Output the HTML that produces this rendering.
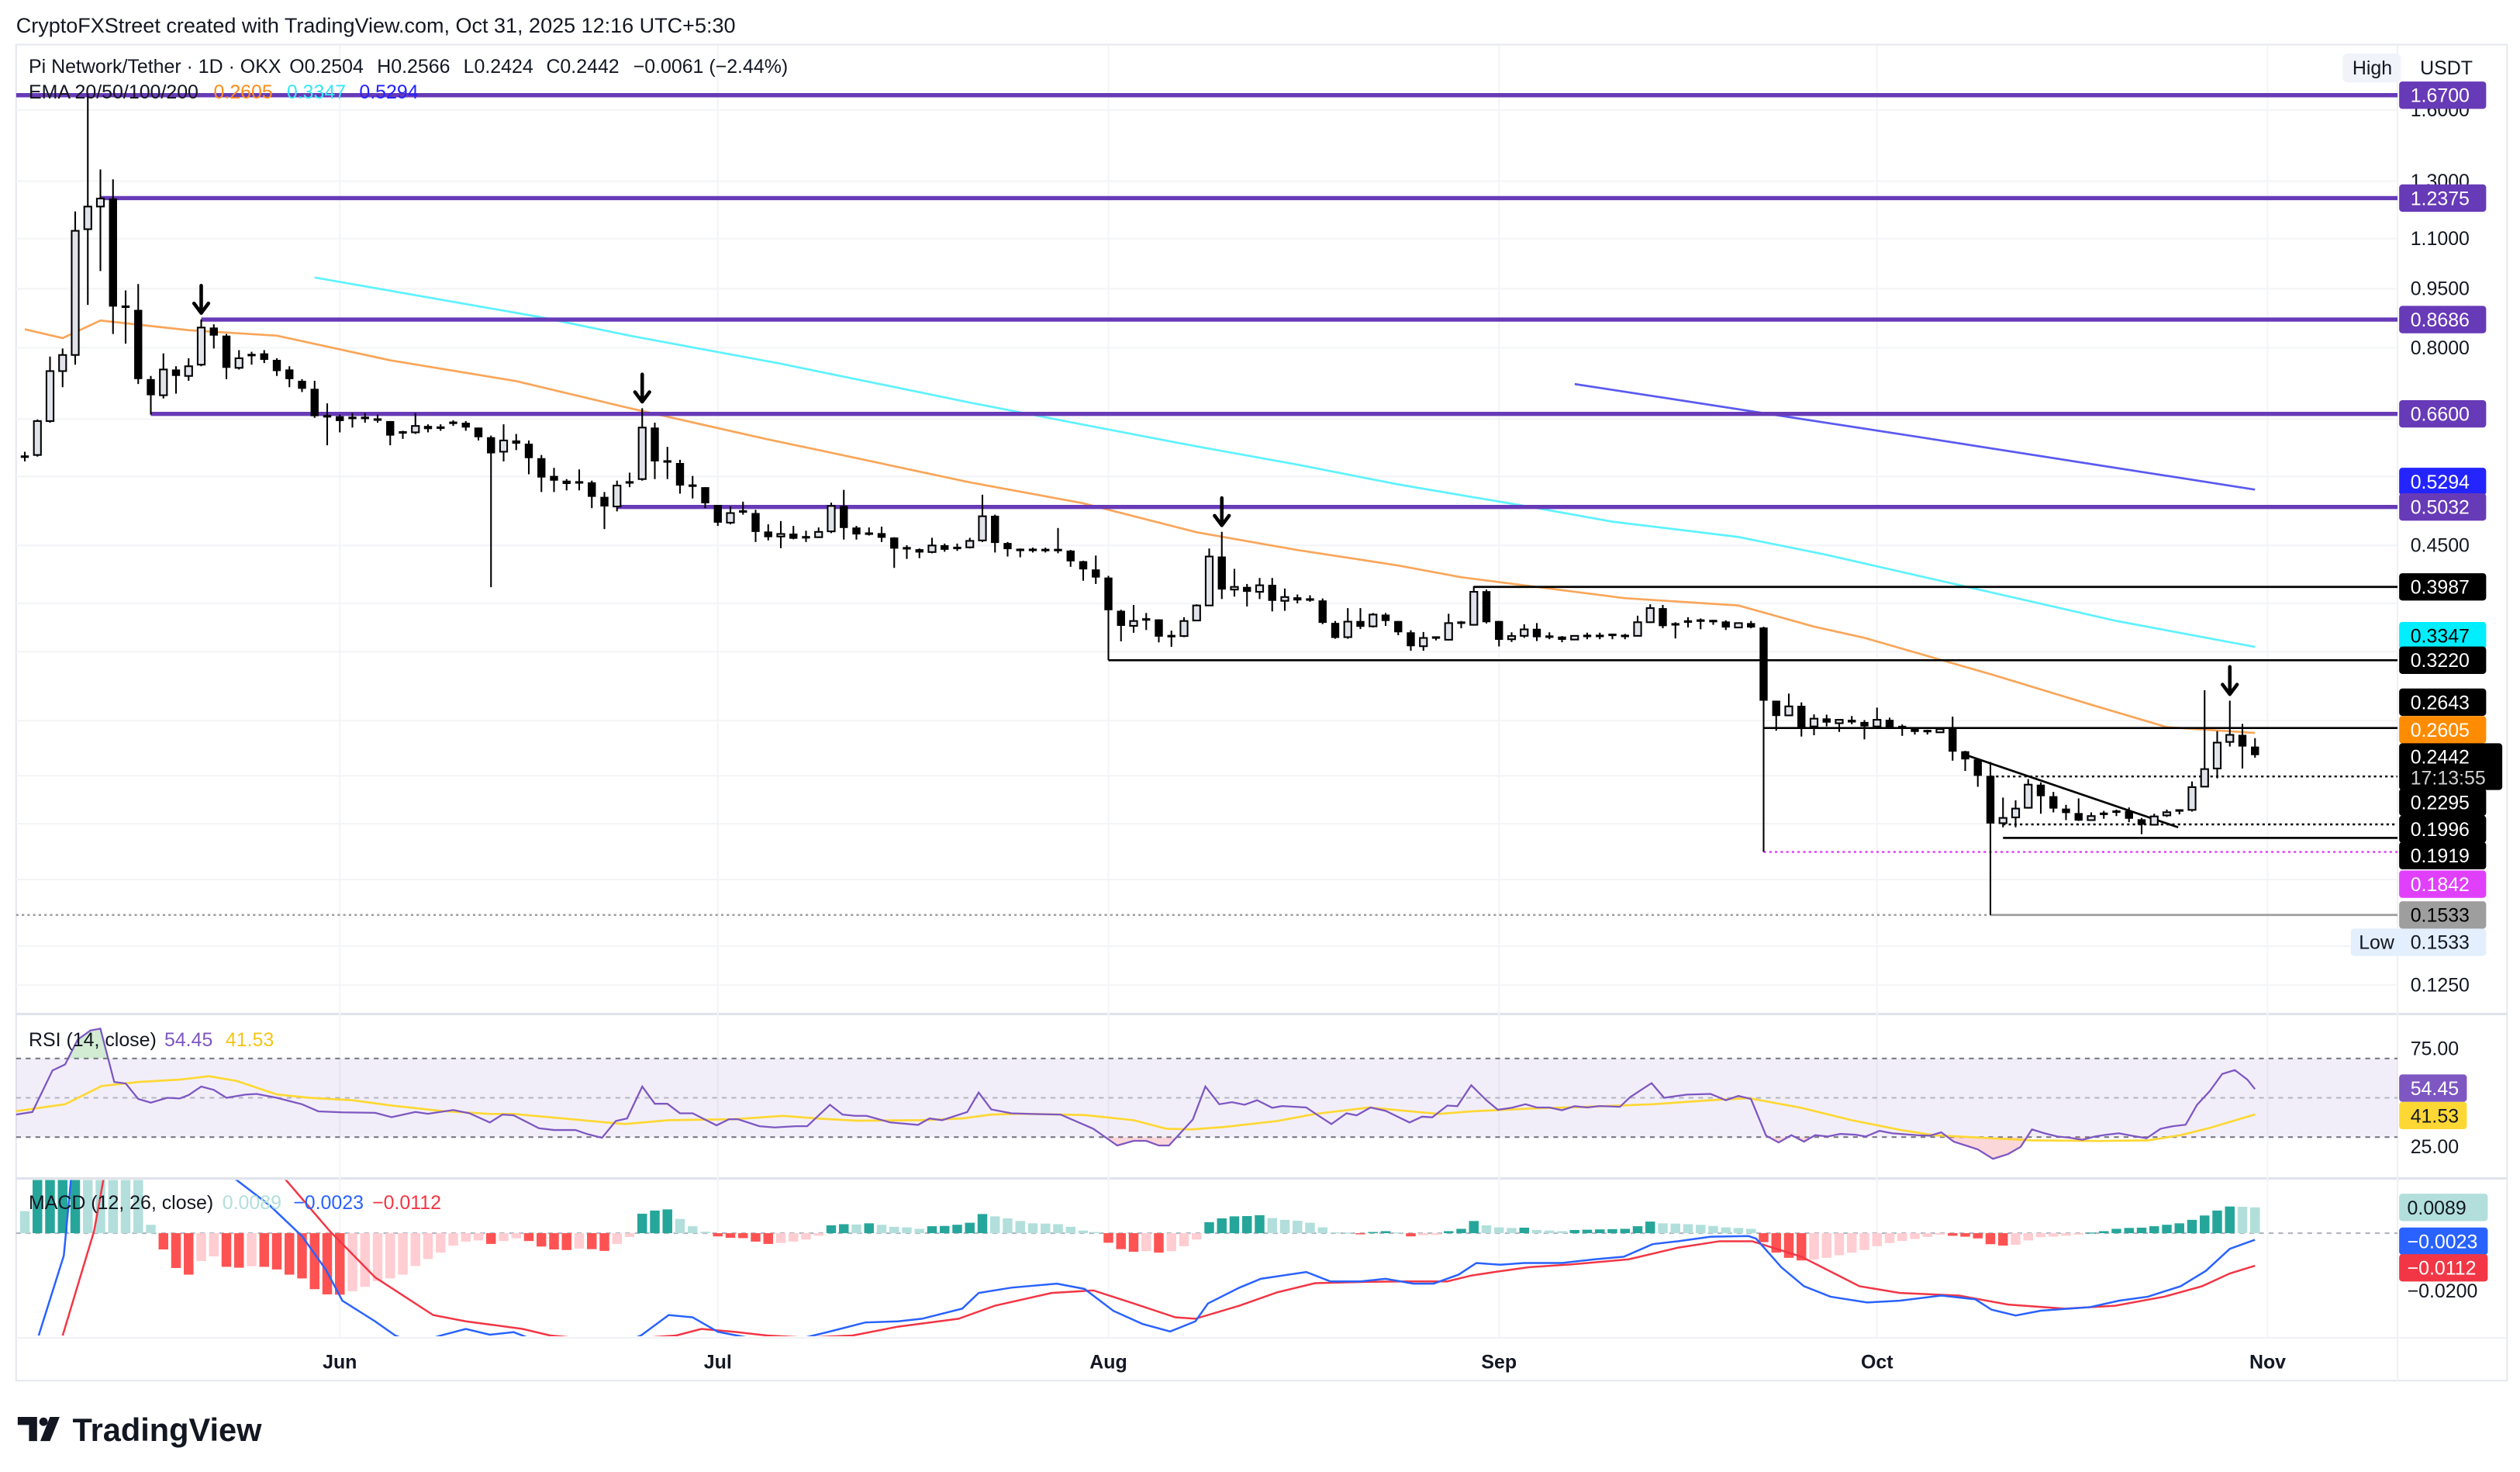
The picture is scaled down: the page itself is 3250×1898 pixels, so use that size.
<!DOCTYPE html>
<html><head><meta charset="utf-8"><title>Pi Network/Tether chart</title>
<style>
html,body{margin:0;padding:0;background:#fff;}
svg{display:block;font-family:"Liberation Sans",Arial,sans-serif;}
</style></head>
<body>
<svg id="chart" width="3250" height="1898" viewBox="0 0 1564 913" xmlns="http://www.w3.org/2000/svg">
<defs>
<clipPath id="mainClip"><rect x="10" y="28" width="1478" height="600"/></clipPath>
<clipPath id="rsiClip"><rect x="10" y="630" width="1478" height="100"/></clipPath>
<clipPath id="macdClip"><rect x="10" y="732" width="1478" height="97"/></clipPath>
<clipPath id="rsiHigh"><rect x="10" y="600" width="1478" height="56.6"/></clipPath>
<clipPath id="rsiLow"><rect x="10" y="705.4" width="1478" height="30"/></clipPath>
</defs>
<rect x="0" y="0" width="1564" height="913" fill="#ffffff"/>
<text x="10" y="20" font-size="13" fill="#131722">CryptoFXStreet created with TradingView.com, Oct 31, 2025 12:16 UTC+5:30</text>
<rect x="10" y="27.5" width="1546" height="829" fill="none" stroke="#e6e8ee" stroke-width="1"/>
<line x1="10" y1="629" x2="1556" y2="629" stroke="#e0e3eb" stroke-width="1.5"/>
<line x1="10" y1="731" x2="1556" y2="731" stroke="#e0e3eb" stroke-width="1.5"/>
<line x1="10" y1="830" x2="1556" y2="830" stroke="#f0f1f5" stroke-width="1"/>
<line x1="1488" y1="28" x2="1488" y2="857" stroke="#f0f1f5" stroke-width="1"/>
<g id="grid"></g>
<rect x="10" y="656.6" width="1478" height="48.8" fill="#7e57c2" fill-opacity="0.1"/>
<line x1="10" y1="656.6" x2="1488" y2="656.6" stroke="#787b86" stroke-dasharray="3,3" stroke-width="1"/>
<line x1="10" y1="681" x2="1488" y2="681" stroke="#b2b5be" stroke-dasharray="3,3" stroke-width="1"/>
<line x1="10" y1="705.4" x2="1488" y2="705.4" stroke="#787b86" stroke-dasharray="3,3" stroke-width="1"/>
<line x1="10" y1="765" x2="1488" y2="765" stroke="#b2b5be" stroke-dasharray="3,3" stroke-width="1"/>
<g id="main" clip-path="url(#mainClip)"></g>
<g id="rsi" clip-path="url(#rsiClip)"></g>
<g id="macd" clip-path="url(#macdClip)"></g>
<g id="axis"></g>

<text y="45" font-size="12" fill="#131722"><tspan x="17.8">Pi Network/Tether · 1D · OKX</tspan><tspan x="179.6">O0.2504</tspan><tspan x="234">H0.2566</tspan><tspan x="287.6">L0.2424</tspan><tspan x="339">C0.2442</tspan><tspan x="393">−0.0061 (−2.44%)</tspan></text>
<text y="61" font-size="12" fill="#131722"><tspan x="17.8">EMA 20/50/100/200</tspan><tspan x="132.6" fill="#ff8c1a">0.2605</tspan><tspan x="178" fill="#35e8f5">0.3347</tspan><tspan x="223" fill="#2424ff">0.5294</tspan></text>
<rect x="1454" y="33" width="36" height="18" rx="3" fill="#f0f3fa"/>
<text x="1460" y="46" font-size="12" fill="#131722">High</text>
<text x="1502" y="46" font-size="12" fill="#131722">USDT</text>
<text y="649" font-size="12" fill="#131722"><tspan x="17.8">RSI (14, close)</tspan><tspan x="102" fill="#7e57c2">54.45</tspan><tspan x="140" fill="#f5c518">41.53</tspan></text>
<text y="750" font-size="12" fill="#131722"><tspan x="17.8">MACD (12, 26, close)</tspan><tspan x="138" fill="#b2dfdb">0.0089</tspan><tspan x="182" fill="#2962ff">−0.0023</tspan><tspan x="231" fill="#f23645">−0.0112</tspan></text>

<g>
<path d="M11 879 h12 v15 h-5 v-10 h-7 z M25 894 l6 -15 h6 l-6 15 z" fill="#131722"/>
<circle cx="27" cy="882" r="2.6" fill="#131722"/>
<text x="45" y="894" font-size="20" font-weight="bold" fill="#131722">TradingView</text>
</g>
</svg>
<script>
// ---------- DATA ----------
const opens=[0.5828,0.5855,0.6463,0.7476,0.7835,1.1303,1.2073,1.2359,0.9021,0.8936,
0.7303,0.6968,0.7511,0.7371,0.7617,0.8487,0.8290,0.7547,0.7798,0.7872,
0.7725,0.7511,0.7268,0.7100,0.6555,0.6555,0.6524,0.6524,0.6493,0.6463,
0.6254,0.6254,0.6372,0.6342,0.6402,0.6432,0.6342,0.6166,0.5911,0.6108,
0.6051,0.5801,0.5509,0.5433,0.5407,0.5407,0.5183,0.5039,0.5381,0.5458,
0.6342,0.5747,0.5720,0.5356,0.5331,0.5062,0.4807,0.4968,0.4944,0.4685,
0.4617,0.4657,0.4608,0.4608,0.4687,0.5047,0.4740,0.4657,0.4663,0.4604,
0.4463,0.4450,0.4413,0.4502,0.4467,0.4474,0.4565,0.4905,0.4531,0.4442,
0.4442,0.4440,0.4440,0.4432,0.4297,0.4195,0.4097,0.3719,0.3559,0.3627,
0.3627,0.3455,0.3455,0.3615,0.3777,0.4356,0.3956,0.3987,0.3930,0.4011,
0.3828,0.3868,0.3844,0.3833,0.3590,0.3444,0.3610,0.3554,0.3678,0.3610,
0.3493,0.3354,0.3441,0.3418,0.3593,0.3570,0.3938,0.3610,0.3423,0.3457,
0.3529,0.3450,0.3450,0.3420,0.3457,0.3457,0.3468,0.3457,0.3457,0.3597,
0.3748,0.3576,0.3605,0.3615,0.3610,0.3605,0.3542,0.3588,0.3542,0.2862,
0.2742,0.2820,0.2655,0.2718,0.2680,0.2707,0.2690,0.2655,0.2707,0.2660,
0.2650,0.2620,0.2610,0.2635,0.2470,0.2412,0.2299,0.2003,0.2037,0.2095,
0.2241,0.2167,0.2090,0.2063,0.2021,0.2059,0.2072,0.2076,0.2026,0.1994,
0.2049,0.2079,0.2082,0.2228,0.2349,0.2538,0.2591,0.2504];
const highs=[0.5911,0.6493,0.7798,0.7984,1.1903,1.677,1.3450,1.3068,0.9455,0.9634,
0.7371,0.7872,0.7582,0.7761,0.8689,0.8567,0.8329,0.7946,0.7909,0.7946,
0.7761,0.7582,0.7303,0.7268,0.6805,0.6585,0.6616,0.6616,0.6585,0.6463,
0.6283,0.6616,0.6402,0.6402,0.6478,0.6463,0.6342,0.6195,0.6402,0.6225,
0.6108,0.5855,0.5640,0.5458,0.5614,0.5433,0.5256,0.5433,0.5561,0.6710,
0.6432,0.5995,0.5774,0.5509,0.5331,0.5062,0.5039,0.5110,0.4991,0.4784,
0.4830,0.4762,0.4696,0.4740,0.5095,0.5289,0.4762,0.4740,0.4751,0.4608,
0.4502,0.4459,0.4600,0.4523,0.4523,0.4600,0.5215,0.4921,0.4544,0.4459,
0.4470,0.4470,0.4733,0.4440,0.4303,0.4368,0.4117,0.3730,0.3783,0.3695,
0.3627,0.3510,0.3650,0.3790,0.4459,0.4681,0.4202,0.4021,0.4092,0.4092,
0.3968,0.3900,0.3891,0.3855,0.3610,0.3748,0.3748,0.3695,0.3695,0.3610,
0.3514,0.3496,0.3444,0.3687,0.3610,0.3996,0.3956,0.3610,0.3493,0.3576,
0.3588,0.3493,0.3455,0.3460,0.3489,0.3489,0.3470,0.3477,0.3666,0.3790,
0.3783,0.3597,0.3650,0.3637,0.3623,0.3617,0.3588,0.3610,0.3550,0.2862,
0.2922,0.2848,0.2750,0.2748,0.2711,0.2737,0.2705,0.2805,0.2724,0.2670,
0.2650,0.2630,0.2641,0.2732,0.2473,0.2415,0.2394,0.2158,0.2141,0.2278,
0.2256,0.2194,0.2113,0.2153,0.2067,0.2076,0.2084,0.2097,0.2034,0.2059,
0.2084,0.2084,0.2262,0.2950,0.2619,0.2862,0.2675,0.2566];
const lows=[0.5747,0.5828,0.6432,0.7133,0.7617,0.9065,1.0005,0.8329,0.8097,0.7201,
0.6585,0.6903,0.7000,0.7268,0.7582,0.7984,0.7303,0.7511,0.7617,0.7653,
0.7371,0.7133,0.7033,0.6524,0.6023,0.6254,0.6342,0.6432,0.6432,0.6023,
0.6137,0.6225,0.6254,0.6283,0.6372,0.6283,0.6108,0.3984,0.5747,0.5939,
0.5535,0.5256,0.5256,0.5281,0.5281,0.5015,0.4718,0.4968,0.5331,0.5433,
0.5458,0.5458,0.5231,0.5158,0.5015,0.4762,0.4784,0.4921,0.4544,0.4565,
0.4463,0.4580,0.4544,0.4597,0.4663,0.4576,0.4576,0.4630,0.4544,0.4214,
0.4325,0.4335,0.4397,0.4417,0.4428,0.4459,0.4544,0.4407,0.4356,0.4346,
0.4407,0.4407,0.4397,0.4227,0.4059,0.4021,0.3220,0.3402,0.3488,0.3516,
0.3392,0.3348,0.3444,0.3610,0.3771,0.3848,0.3876,0.3766,0.3848,0.3712,
0.3719,0.3800,0.3818,0.3577,0.3428,0.3428,0.3526,0.3542,0.3559,0.3464,
0.3310,0.3310,0.3412,0.3412,0.3534,0.3570,0.3584,0.3352,0.3396,0.3437,
0.3405,0.3423,0.3393,0.3417,0.3423,0.3423,0.3423,0.3423,0.3450,0.3588,
0.3534,0.3431,0.3542,0.3524,0.3570,0.3516,0.3539,0.3534,0.1842,0.2622,
0.2742,0.2578,0.2588,0.2655,0.2613,0.2672,0.2557,0.2635,0.2635,0.2583,
0.2593,0.2593,0.2610,0.2403,0.2332,0.2227,0.1533,0.1979,0.1979,0.2090,
0.2059,0.2067,0.2021,0.2016,0.2018,0.2029,0.2045,0.2009,0.1940,0.1991,
0.2040,0.2055,0.2072,0.2228,0.2283,0.2504,0.2349,0.2424];
const closes=[0.5801,0.6463,0.7476,0.7835,1.1250,1.2073,1.2359,0.9021,0.9000,0.7303,
0.6968,0.7511,0.7371,0.7582,0.8487,0.8290,0.7547,0.7761,0.7835,0.7725,
0.7476,0.7303,0.7100,0.6555,0.6540,0.6463,0.6520,0.6509,0.6478,0.6195,
0.6240,0.6372,0.6313,0.6327,0.6432,0.6342,0.6166,0.5883,0.6108,0.6051,
0.5801,0.5483,0.5433,0.5381,0.5394,0.5183,0.5039,0.5356,0.5407,0.6342,
0.5747,0.5734,0.5356,0.5343,0.5086,0.4807,0.4944,0.4956,0.4679,0.4608,
0.4652,0.4587,0.4604,0.4680,0.5047,0.4733,0.4645,0.4652,0.4600,0.4457,
0.4459,0.4407,0.4498,0.4442,0.4463,0.4559,0.4898,0.4531,0.4450,0.4440,
0.4440,0.4436,0.4434,0.4295,0.4195,0.4097,0.3725,0.3559,0.3610,0.3622,
0.3449,0.3450,0.3610,0.3777,0.4356,0.3956,0.3987,0.3930,0.4006,0.3828,
0.3871,0.3833,0.3840,0.3590,0.3436,0.3603,0.3549,0.3678,0.3610,0.3493,
0.3354,0.3436,0.3417,0.3588,0.3570,0.3930,0.3597,0.3417,0.3455,0.3523,
0.3443,0.3447,0.3417,0.3457,0.3455,0.3455,0.3466,0.3455,0.3597,0.3748,
0.3556,0.3573,0.3603,0.3613,0.3608,0.3542,0.3588,0.3542,0.2862,0.2737,
0.2815,0.2650,0.2716,0.2685,0.2707,0.2686,0.2655,0.2707,0.2647,0.2640,
0.2613,0.2617,0.2635,0.2467,0.2412,0.2299,0.2001,0.2034,0.2090,0.2241,
0.2167,0.2090,0.2063,0.2018,0.2045,0.2045,0.2059,0.2029,0.1994,0.2043,
0.2068,0.2077,0.2225,0.2345,0.2533,0.2591,0.2504,0.2442];

const ema50Idx=[0,3,6,10,13,20,29,39,48,59,63,75,84,93,101,109,114,127,136,142,146,156,164,170,177];
const ema50Val=[0.8447,0.8232,0.8663,0.8527,0.8420,0.8290,0.7712,0.7261,0.6710,0.6125,0.5939,0.5407,0.5086,0.4674,0.4440,0.4244,0.4101,0.3857,0.3777,0.3552,0.3437,0.3093,0.2828,0.2650,0.2605];
const ema100Idx=[23,41,48,60,75,84,93,101,109,119,126,136,143,166,177];
const ema100Val=[0.9817,0.8746,0.8290,0.7637,0.6821,0.6395,0.6002,0.5693,0.5373,0.5049,0.4822,0.4611,0.4376,0.3610,0.3347];
const ema200Idx=[123,150,177];
const ema200Val=[0.7200,0.6180,0.5294];

const levelPrices=[1.67,1.2375,0.8686,0.66,0.5032,0.3987,0.3220,0.2643,0.2295,0.1996,0.1919,0.1842,0.1533];
const levelStartIdx=[-1,6,14,10,47,115,86,138,156,157,157,138,-1];

const tagPrices=[1.67,1.2375,0.8686,0.66,0.5294,0.5032,0.3987,0.3347,0.3220,0.2643,0.2605,0.2295,0.1996,0.1919,0.1842,0.1533];
const tagColors=['#673ab7','#673ab7','#673ab7','#673ab7','#2424ff','#673ab7','#000000','#00eeff','#000000','#000000','#ff8c00','#000000','#000000','#000000','#e040fb','#9e9e9e'];
const tagTextColors=['#fff','#fff','#fff','#fff','#fff','#fff','#fff','#000','#fff','#fff','#fff','#fff','#fff','#fff','#fff','#000'];
const tagDy=[0,0,0,0,-5,0,0,-7,0,-16,-2,16,3,11,20,0];

const priceTicks=[1.6,1.3,1.1,0.95,0.8,0.45,0.125];
const gridPrices=[1.6,1.3,1.1,0.95,0.8,0.65,0.55,0.45,0.38,0.33,0.27,0.23,0.2,0.17,0.14,0.125];
const monthLabels=['Jun','Jul','Aug','Sep','Oct','Nov'];
const monthIdx=[25,55,86,117,147,178];
const arrowIdx=[14,49,95,175];
const trendIdx=[154,170.9];
const trendVal=[0.2445,0.1979];

const rsiIdx=[-0.7,0.6,2.2,3.2,4.2,5.2,6,7.1,8,9,10,11.3,12.3,13,14,15,16,17.5,18.4,20,22,23.3,25.2,27.8,29.1,31,32,34,35.3,36.9,37.9,38.8,40.8,42,43.7,44.6,45.8,46.9,47.8,49,50,51,52,53,54.9,55.9,56.6,58.3,59.5,61.2,62.1,63.9,64.9,65.9,66.8,68.7,70.9,71.8,72.8,74.8,75.7,76.7,78.3,80.3,82.2,84.8,86.7,88,89,90,90.8,92.7,93.7,94.8,95.8,96.8,97.8,99,99.8,101.7,102.7,103.7,104.9,105.7,106.8,108,109.9,110.9,111.7,112.9,113.7,114.8,116,116.9,118,119.1,120,121,122,123,124,125,126.6,127.4,129.1,130.1,131.9,133.8,135,136,137,138.2,139.2,140.2,141.2,142.1,143.1,144.1,145.3,146.1,147.2,148.2,150.2,151.2,152.1,153.1,155,156.2,157.4,158.4,159.3,160.3,161.3,162.3,163.3,164.3,165.2,166.2,167.2,168.4,169.5,170.5,171.5,172.4,173.4,174.4,175.4,176.4,177];
const rsiVal=[41.5,42.8,63.9,67,79.6,84.3,85.2,58,57.3,49.4,47.5,50,49.7,51.4,55.7,54,50,51.6,52,50,46.7,43.1,42.6,42.4,40.2,42.8,41.9,43.8,42.1,37.5,41.5,41.1,34.5,33.6,33.6,31.6,29.7,38.2,39.5,55.7,47,47,42.1,42.1,36,39.1,39.1,35.6,34.9,35.6,35.6,46.5,41.5,40.8,40.8,37.5,36.2,39.5,38.6,42.8,52.7,44.1,42.1,41.7,41.5,34.3,25.7,28.1,28.1,25.7,25.7,38.9,55.7,46.7,47.8,46.5,48.8,44.9,45.8,45.1,40.8,36.6,42.1,41.1,45.1,43.4,37.5,40.4,40.1,46.1,45.7,56.4,48.8,43.9,44.9,46.7,45.1,45.1,43.7,45.7,45.1,45.8,45.4,50.3,57.5,50,51.6,52,48.8,51,49.4,30.7,27.3,31,27.7,31,30.3,31.6,31.2,30.3,33.2,32,31,30.7,32.5,27.7,23.8,18.9,21.4,25.1,33.9,32,30.3,29.7,28.6,30.3,31.2,32,30.7,29.4,34.3,35.6,36.3,46.5,53.4,62.1,64.1,59.3,54.45];
const rsiMaIdx=[-0.7,3.2,6.1,9,12.3,14.6,16.8,20,22.6,26,29.1,33,36.9,38.8,43.4,47.6,51.1,56.3,60.2,62.8,66,71.2,74.4,76.7,79,84.1,88,90.6,92.6,95.2,99.4,102.4,106.7,109.6,112.2,114.8,119.4,124,129.2,133.8,136.8,141,145,148.9,151.5,155.4,159.3,164.6,168.5,171.1,173.4,177];
const rsiMaVal=[43.2,46.7,56,58,59.3,61,58.6,51.7,50,48.8,46.1,43.4,41.8,41.8,39.1,36.6,38.6,39.1,40.8,39.5,38.4,38.6,39.5,41.5,41.9,41.2,38.6,34.3,33.9,35.2,38.2,41.8,45.1,43.4,41.8,43.1,44.5,45.4,46.7,48.8,49.8,44.9,38.6,33.6,31,29.7,28.4,28,28.4,31,34.7,41.53];

const macdIdx=[1.1,3.1,3.7,5,10,16.3,19.4,22,23.9,25.2,27.8,29.4,31,33,35,36.9,38.8,40.5,45,48.9,51.1,53,55,56.5,60,63.8,66.7,69.3,71.2,74.4,75.7,78.3,81.9,84.1,86.4,88.7,90.9,92.9,93.9,96.4,98.1,101.7,103.6,106,108,110.2,111.8,113.8,115.2,117.1,119,122,124.6,126.9,129.2,131.2,133.8,136.8,137.4,139.4,141.2,143.3,146.2,148.8,152.1,154.8,156.1,158,160,163.9,166.2,168.5,171.1,173.1,175,177];
const macdVal=[-0.0353,-0.0077,0.02,0.045,0.05,0.02,0.0097,-0.001,-0.0126,-0.0233,-0.0304,-0.0353,-0.038,-0.0353,-0.033,-0.035,-0.0341,-0.037,-0.042,-0.0353,-0.0282,-0.029,-0.034,-0.0353,-0.038,-0.034,-0.0308,-0.0304,-0.0295,-0.026,-0.0206,-0.0188,-0.0174,-0.0192,-0.0268,-0.0313,-0.0339,-0.0304,-0.0242,-0.0188,-0.0157,-0.0134,-0.0166,-0.0166,-0.0157,-0.0174,-0.0174,-0.0143,-0.0103,-0.0109,-0.0103,-0.0103,-0.009,-0.0081,-0.0038,-0.0028,-0.0012,-0.001,-0.0019,-0.0117,-0.0183,-0.0219,-0.0239,-0.0233,-0.0215,-0.0228,-0.0264,-0.0284,-0.0267,-0.0255,-0.0233,-0.0219,-0.0183,-0.013,-0.0054,-0.0023];
const signalIdx=[3,5.5,6.3,10,20.4,24.2,27.8,32.4,35,39.5,41.7,46,51.7,53.7,56.3,58.9,62,65.7,69.3,74.1,77,81.5,84.8,88,91.3,92.9,96.4,99.4,102.4,106.3,109.6,112.9,114.8,116.8,119.4,122.7,127.3,131.2,134.5,137.1,141,145.6,148.8,153.5,157.4,161.9,165.9,169.8,172.8,175,177];
const signalVal=[-0.0353,0.0008,0.02,0.04,0.02,0.0008,-0.0152,-0.0282,-0.0304,-0.033,-0.0353,-0.037,-0.0353,-0.033,-0.034,-0.0353,-0.036,-0.0353,-0.0322,-0.0295,-0.025,-0.0206,-0.0197,-0.0242,-0.029,-0.0295,-0.025,-0.0204,-0.0172,-0.0168,-0.0166,-0.0166,-0.0146,-0.0133,-0.0117,-0.0108,-0.009,-0.005,-0.0028,-0.0028,-0.0081,-0.0183,-0.0206,-0.0215,-0.0246,-0.026,-0.025,-0.0219,-0.0183,-0.0139,-0.0112];
const histVal=[0.0076,0.025,0.03,0.035,0.04,0.04,0.035,0.03,0.025,0.02,
0.0029,-0.0056,-0.012,-0.0143,-0.0096,-0.008,-0.0116,-0.0119,-0.0114,-0.0116,
-0.0125,-0.0143,-0.0156,-0.0193,-0.0211,-0.0212,-0.02,-0.0185,-0.0165,-0.0156,
-0.0143,-0.0113,-0.0089,-0.0067,-0.0043,-0.0029,-0.0025,-0.0037,-0.0027,-0.0018,
-0.0027,-0.0046,-0.0056,-0.0058,-0.0053,-0.0055,-0.0061,-0.0037,-0.0013,0.0067,
0.0078,0.0082,0.0049,0.0024,0.0005,-0.0011,-0.0016,-0.0017,-0.0029,-0.0037,
-0.0034,-0.0029,-0.0022,-0.0009,0.0027,0.0031,0.003,0.0034,0.0029,0.0022,
0.002,0.0015,0.0024,0.0025,0.0029,0.0036,0.0066,0.0058,0.0051,0.0042,
0.0034,0.0033,0.0031,0.0022,0.0009,0.0004,-0.0033,-0.0055,-0.0064,-0.0062,
-0.0067,-0.0062,-0.0045,-0.0022,0.0038,0.0051,0.0058,0.0059,0.0062,0.0052,
0.0046,0.0043,0.0036,0.002,0.0003,0.0002,-0.0004,0.0004,0.0007,0.0003,
-0.0011,-0.0007,-0.0006,0.0007,0.0015,0.0042,0.0027,0.002,0.0018,0.0019,
0.0011,0.0009,0.0007,0.0011,0.0012,0.0013,0.0014,0.0015,0.0024,0.004,
0.0034,0.0033,0.0031,0.0029,0.0025,0.002,0.0018,0.0015,-0.0031,-0.0067,
-0.0085,-0.0094,-0.0091,-0.0085,-0.0076,-0.0067,-0.0058,-0.0045,-0.0034,-0.0027,
-0.002,-0.0013,-0.0005,-0.0009,-0.0012,-0.0018,-0.0038,-0.0043,-0.004,-0.0025,
-0.0014,-0.0012,-0.0009,-0.0005,0.0002,0.0007,0.0015,0.0018,0.0019,0.0024,
0.0029,0.0034,0.0046,0.0061,0.0078,0.0092,0.0091,0.0089];

// ---------- SCALES ----------
const NS='http://www.w3.org/2000/svg';
const LN16=Math.log(1.6);
function py(p){return 68+(LN16-Math.log(p))*213;}
function xi(i){return 15.4+7.82*i;}
function ry(v){return 681-(v-50)*1.22;}
function my(v){return 765-v*1800;}
function mk(tag,attrs,parent){const e=document.createElementNS(NS,tag);for(const k in attrs)e.setAttribute(k,attrs[k]);parent.appendChild(e);return e;}
const gMain=document.getElementById('main');
const gRsi=document.getElementById('rsi');
const gMacd=document.getElementById('macd');
const gAxis=document.getElementById('axis');
const gGrid=document.getElementById('grid');

gridPrices.forEach(p=>{
  const l=mk('line',{x1:10,x2:1488,y1:py(p),y2:py(p),stroke:'#f3f4f7','stroke-width':1},gGrid);
  
  
});
monthIdx.forEach(i=>{
  const l=mk('line',{x1:xi(i),x2:xi(i),y1:28,y2:830,stroke:'#f3f4f7','stroke-width':1},gGrid);
  
  
});

function pts(idx,val,yf){return idx.map((i,k)=>xi(i).toFixed(1)+','+yf(val[k]).toFixed(1)).join(' ');}

let e;
e=mk('polyline',{points:pts(ema100Idx,ema100Val,py),fill:'none',stroke:'#5ff2ff','stroke-width':1.3},gMain);


e=mk('polyline',{points:pts(ema200Idx,ema200Val,py),fill:'none',stroke:'#5a5af0','stroke-width':1.3},gMain);


e=mk('polyline',{points:pts(ema50Idx,ema50Val,py),fill:'none',stroke:'#f9a65a','stroke-width':1.3},gMain);



levelPrices.forEach((p,k)=>{
  const y=py(p), x1=levelStartIdx[k]<0?10:xi(levelStartIdx[k]);
  let attrs={x1:x1,x2:1488,y1:y,y2:y,stroke:'#000','stroke-width':1.3};
  if(p>=0.5){attrs.stroke='#673ab7';attrs['stroke-width']=2.6;}
  if(p===0.2295||p===0.1996){attrs['stroke-dasharray']='1.5,2';attrs['stroke-width']=1.2;}
  if(p===0.1842){attrs.stroke='#e040fb';attrs['stroke-dasharray']='1.5,2';attrs['stroke-width']=1.2;}
  if(p===0.1533){attrs.stroke='#9e9e9e';attrs['stroke-dasharray']='1.5,2';attrs['stroke-width']=1.2;}
  const l=mk('line',attrs,gMain);
  
  
});
e=mk('line',{x1:xi(156),x2:1488,y1:py(0.1533),y2:py(0.1533),stroke:'#9e9e9e','stroke-width':1.3},gMain);



e=mk('line',{x1:xi(trendIdx[0]),y1:py(trendVal[0]),x2:xi(trendIdx[1]),y2:py(trendVal[1]),stroke:'#000','stroke-width':1.3},gMain);



for(let i=0;i<closes.length;i++){
  const x=xi(i), o=opens[i], c=closes[i];
  const up=c>=o;
  const g=mk('g',{},gMain);
  
  
  const w=mk('line',{x1:x,x2:x,y1:py(highs[i]),y2:py(lows[i]),stroke:'#000','stroke-width':1},g);
  
  
  let yt=Math.min(py(o),py(c)), h=Math.abs(py(o)-py(c));
  let b;
  if(h<1.5){b=mk('rect',{x:x-2.5,y:yt-0.7,width:5,height:Math.max(1.5,h),fill:'#000'},g);}
  else if(up){b=mk('rect',{x:x-2.2,y:yt,width:4.4,height:h,fill:'#e1e3ea',stroke:'#000','stroke-width':1},g);}
  else{b=mk('rect',{x:x-2.5,y:yt,width:5,height:h,fill:'#000'},g);}
  
  
}

arrowIdx.forEach(i=>{
  const x=xi(i), tip=py(highs[i])-4;
  const a=mk('path',{d:`M${x} ${tip-17} V${tip} M${x-4.5} ${tip-6} L${x} ${tip} L${x+4.5} ${tip-6}`,fill:'none',stroke:'#000','stroke-width':2.2,'stroke-linecap':'round','stroke-linejoin':'round'},gMain);
  
  
});

priceTicks.forEach(p=>{
  const t=mk('text',{x:1496,y:py(p)+4,'font-size':12,fill:'#131722'},gAxis);
  t.textContent=p.toFixed(4);
  
  
});
tagPrices.forEach((p,k)=>{
  const y=py(p)+tagDy[k];
  const r=mk('rect',{x:1489,y:y-8.5,width:54,height:17,rx:2,fill:tagColors[k]},gAxis);
  
  
  const t=mk('text',{x:1496,y:y+4.3,'font-size':12,fill:tagTextColors[k]},gAxis);
  t.textContent=p.toFixed(4);
  
  
});
e=mk('rect',{x:1489,y:461,width:64,height:29,rx:2,fill:'#000'},gAxis);


e=mk('text',{x:1496,y:473.5,'font-size':12,fill:'#fff'},gAxis);
e.textContent=closes[closes.length-1].toFixed(4);


e=mk('text',{x:1496,y:486.5,'font-size':12,fill:'#d0d0d0'},gAxis);
e.textContent='17:13:55';


e=mk('rect',{x:1459,y:576,width:84,height:17,rx:2,fill:'#e3effd'},gAxis);


e=mk('text',{x:1464,y:588.5,'font-size':12,fill:'#131722'},gAxis);
e.textContent='Low';


e=mk('text',{x:1496,y:588.5,'font-size':12,fill:'#131722'},gAxis);
e.textContent='0.1533';



monthLabels.forEach((m,k)=>{
  const t=mk('text',{x:xi(monthIdx[k]),y:849,'font-size':12,'text-anchor':'middle',fill:'#131722','font-weight':'bold'},gAxis);
  t.textContent=m;
  
  
});

const rsiPts=pts(rsiIdx,rsiVal,ry);
const lastX=xi(rsiIdx[rsiIdx.length-1]).toFixed(1), firstX=xi(rsiIdx[0]).toFixed(1);
e=mk('polygon',{points:rsiPts+' '+lastX+',656.6 '+firstX+',656.6',fill:'#4caf50','fill-opacity':0.25,'clip-path':'url(#rsiHigh)'},gRsi);


e=mk('polygon',{points:rsiPts+' '+lastX+',705.4 '+firstX+',705.4',fill:'#f23645','fill-opacity':0.2,'clip-path':'url(#rsiLow)'},gRsi);


e=mk('polyline',{points:pts(rsiMaIdx,rsiMaVal,ry),fill:'none',stroke:'#fdd835','stroke-width':1.3},gRsi);


e=mk('polyline',{points:rsiPts,fill:'none',stroke:'#7e57c2','stroke-width':1.1},gRsi);



for(let i=0;i<histVal.length;i++){
  const v=histVal[i], prev=i>0?histVal[i-1]:v;
  let col;
  if(v>=0) col=(v>prev)?'#26a69a':'#b2dfdb'; else col=(v<prev)?'#ff5252':'#ffcdd2';
  const y0=my(0), y1=my(v);
  const b=mk('rect',{x:xi(i)-3,y:Math.min(y0,y1),width:6,height:Math.max(0.6,Math.abs(y1-y0)),fill:col},gMacd);
  
  
}
e=mk('polyline',{points:pts(signalIdx,signalVal,my),fill:'none',stroke:'#f23645','stroke-width':1.2},gMacd);


e=mk('polyline',{points:pts(macdIdx,macdVal,my),fill:'none',stroke:'#2962ff','stroke-width':1.2},gMacd);



const rsiTicks=[75,25];
rsiTicks.forEach(v=>{
  const t=mk('text',{x:1496,y:ry(v)+4,'font-size':12,fill:'#131722'},gAxis);
  t.textContent=v.toFixed(2);
  
  
});
const rsiTags=[54.45,41.53];
const rsiTagCol=['#7e57c2','#fdd835'], rsiTagTxt=['#fff','#131722'], rsiTagY=[675,692];
rsiTags.forEach((v,k)=>{
  const r=mk('rect',{x:1489,y:rsiTagY[k]-8.5,width:42,height:17,rx:2,fill:rsiTagCol[k]},gAxis);
  
  
  const t=mk('text',{x:1496,y:rsiTagY[k]+4.3,'font-size':12,fill:rsiTagTxt[k]},gAxis);
  t.textContent=v.toFixed(2);
  
  
});
e=mk('text',{x:1494,y:my(-0.02)+4,'font-size':12,fill:'#131722'},gAxis);
e.textContent='−0.0200';


const macdTags=['0.0089','−0.0023','−0.0112'];
const macdTagCol=['#b2dfdb','#2962ff','#f23645'], macdTagTxt=['#131722','#fff','#fff'], macdTagY=[749,770,786.5];
macdTags.forEach((s,k)=>{
  const r=mk('rect',{x:1489,y:macdTagY[k]-8.5,width:55,height:17,rx:2,fill:macdTagCol[k]},gAxis);
  
  
  const t=mk('text',{x:1494,y:macdTagY[k]+4.3,'font-size':12,fill:macdTagTxt[k]},gAxis);
  t.textContent=s;
  
  
});
</script>
</body></html>
